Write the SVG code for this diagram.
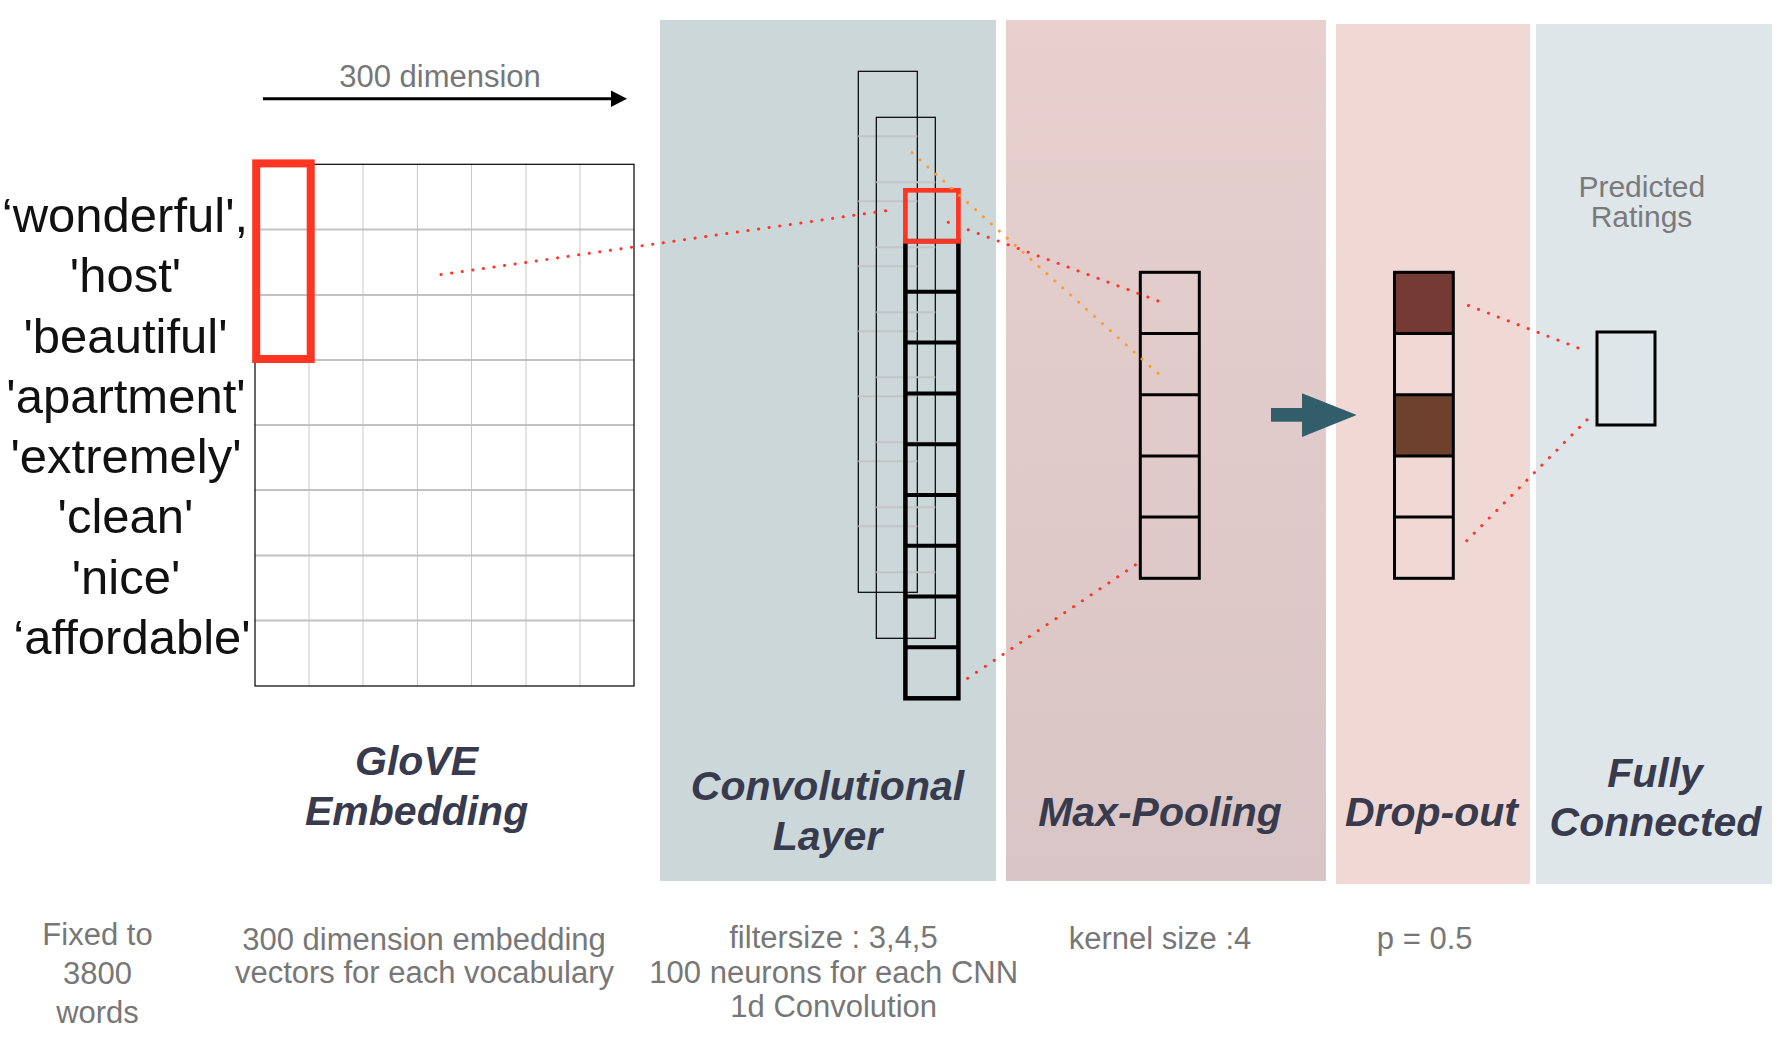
<svg xmlns="http://www.w3.org/2000/svg" width="1789" height="1043" viewBox="0 0 1789 1043">
<style>
.word{font-family:"Liberation Sans",Arial,sans-serif;font-size:49px;fill:#111;text-anchor:middle}
.title{font-family:"Liberation Sans",Arial,sans-serif;font-size:41px;font-weight:bold;font-style:italic;fill:#383a4e;text-anchor:middle}
.note{font-family:"Liberation Sans",Arial,sans-serif;font-size:31px;fill:#777;text-anchor:middle}
.pred{font-family:"Liberation Sans",Arial,sans-serif;font-size:30px;fill:#7a7a7a;text-anchor:middle}
.vgrid{stroke:#c8c8c8;stroke-width:1}
.hgrid{stroke:#c2c2c2;stroke-width:2}
.gline{stroke:#c4c4c4;stroke-width:2}
.thin{fill:none;stroke:#000;stroke-width:1.2}
.cell{fill:none;stroke:#000;stroke-width:3}
.conv{fill:none;stroke:#000;stroke-width:4.5}
.hl{fill:none;stroke:#ff3524}
.dotr{fill:none;stroke:#ff3524;stroke-width:3;stroke-linecap:round;stroke-dasharray:0.01 0.99}
.doto{fill:none;stroke:#ff9a30;stroke-width:3;stroke-linecap:round;stroke-dasharray:0.01 0.99}
</style>
<defs>
<linearGradient id="mpGrad" x1="0" y1="0" x2="0" y2="1">
<stop offset="0" stop-color="#e7d0ce"/>
<stop offset="1" stop-color="#d9c5c5"/>
</linearGradient>
</defs>
<rect width="1789" height="1043" fill="#fff"/>

<g id="panels">
<rect x="660" y="20" width="336" height="861" fill="#cbd7d9"/>
<rect x="1006" y="20" width="320" height="861" fill="url(#mpGrad)"/>
<rect x="1336" y="24" width="194" height="860" fill="#f0d9d4"/>
<rect x="1536" y="24" width="236" height="860" fill="#dfe6e9"/>
</g>

<g id="words">
<text class="word" x="125" y="232">‘wonderful',</text>
<text class="word" x="125.5" y="292">'host'</text>
<text class="word" x="125.5" y="353">'beautiful'</text>
<text class="word" x="126" y="413">'apartment'</text>
<text class="word" x="126" y="473">'extremely'</text>
<text class="word" x="125.5" y="533">'clean'</text>
<text class="word" x="126" y="594">'nice'</text>
<text class="word" x="132" y="654">‘affordable'</text>
</g>

<g id="dimension-arrow">
<text class="note" x="440" y="87">300 dimension</text>
<line x1="263" y1="98.7" x2="613" y2="98.7" stroke="#000" stroke-width="3"/>
<polygon points="611,90.6 627,98.7 611,107" fill="#000"/>
</g>

<g id="glove-embedding">
<rect x="255" y="164.3" width="379" height="521.7" fill="#fff"/>
<g class="vgrid">
<line x1="309" y1="164.3" x2="309" y2="686"/>
<line x1="363" y1="164.3" x2="363" y2="686"/>
<line x1="417.4" y1="164.3" x2="417.4" y2="686"/>
<line x1="471.5" y1="164.3" x2="471.5" y2="686"/>
<line x1="526" y1="164.3" x2="526" y2="686"/>
<line x1="580" y1="164.3" x2="580" y2="686"/>
</g>
<g class="hgrid">
<line x1="255" y1="229.5" x2="634" y2="229.5"/>
<line x1="255" y1="295" x2="634" y2="295"/>
<line x1="255" y1="360" x2="634" y2="360"/>
<line x1="255" y1="425" x2="634" y2="425"/>
<line x1="255" y1="490" x2="634" y2="490"/>
<line x1="255" y1="555.5" x2="634" y2="555.5"/>
<line x1="255" y1="620.5" x2="634" y2="620.5"/>
</g>
<rect x="255" y="164.3" width="379" height="521.7" fill="none" stroke="#000" stroke-width="1.2"/>
<rect class="hl" x="256.2" y="163.4" width="54.5" height="195.6" stroke-width="8"/>
</g>

<g id="conv-layer">
<rect class="thin" x="858.3" y="71.3" width="59" height="521"/>
<g class="gline">
<line x1="858.3" y1="136.3" x2="917.3" y2="136.3"/>
<line x1="858.3" y1="201.3" x2="917.3" y2="201.3"/>
<line x1="858.3" y1="266.3" x2="917.3" y2="266.3"/>
<line x1="858.3" y1="331.3" x2="917.3" y2="331.3"/>
<line x1="858.3" y1="396.3" x2="917.3" y2="396.3"/>
<line x1="858.3" y1="461.3" x2="917.3" y2="461.3"/>
<line x1="858.3" y1="526.3" x2="917.3" y2="526.3"/>
</g>
<rect class="thin" x="876.3" y="117.3" width="59" height="521"/>
<g class="gline">
<line x1="876.3" y1="182.3" x2="935.3" y2="182.3"/>
<line x1="876.3" y1="247.3" x2="935.3" y2="247.3"/>
<line x1="876.3" y1="312.3" x2="935.3" y2="312.3"/>
<line x1="876.3" y1="377.3" x2="935.3" y2="377.3"/>
<line x1="876.3" y1="442.3" x2="935.3" y2="442.3"/>
<line x1="876.3" y1="507.3" x2="935.3" y2="507.3"/>
<line x1="876.3" y1="572.3" x2="935.3" y2="572.3"/>
</g>
<rect class="conv" x="905.4" y="241.1" width="53" height="457.2"/>
<g stroke="#000" stroke-width="4">
<line x1="905.4" y1="291.8" x2="958.4" y2="291.8"/>
<line x1="905.4" y1="342.6" x2="958.4" y2="342.6"/>
<line x1="905.4" y1="393.4" x2="958.4" y2="393.4"/>
<line x1="905.4" y1="444.2" x2="958.4" y2="444.2"/>
<line x1="905.4" y1="494.9" x2="958.4" y2="494.9"/>
<line x1="905.4" y1="545.7" x2="958.4" y2="545.7"/>
<line x1="905.4" y1="596.5" x2="958.4" y2="596.5"/>
<line x1="905.4" y1="647.3" x2="958.4" y2="647.3"/>
</g>
<rect class="hl" x="905.4" y="190.3" width="53" height="51" stroke-width="4.7"/>
</g>

<g id="max-pooling">
<rect class="cell" x="1140.3" y="272.3" width="59" height="306"/>
<g stroke="#000" stroke-width="3">
<line x1="1140.3" y1="333.5" x2="1199.3" y2="333.5"/>
<line x1="1140.3" y1="394.7" x2="1199.3" y2="394.7"/>
<line x1="1140.3" y1="455.9" x2="1199.3" y2="455.9"/>
<line x1="1140.3" y1="517.1" x2="1199.3" y2="517.1"/>
</g>
</g>

<g id="flow-arrow">
<rect x="1271" y="408" width="32" height="13.7" fill="#325e6c"/>
<polygon points="1302,393.3 1356.7,415 1302,437" fill="#325e6c"/>
</g>

<g id="drop-out">
<rect x="1394.5" y="272.3" width="58.8" height="61.2" fill="#763a35"/>
<rect x="1394.5" y="394.7" width="58.8" height="61.2" fill="#6e412c"/>
<rect class="cell" x="1394.5" y="272.3" width="58.8" height="306"/>
<g stroke="#000" stroke-width="3">
<line x1="1394.5" y1="333.5" x2="1453.3" y2="333.5"/>
<line x1="1394.5" y1="394.7" x2="1453.3" y2="394.7"/>
<line x1="1394.5" y1="455.9" x2="1453.3" y2="455.9"/>
<line x1="1394.5" y1="517.1" x2="1453.3" y2="517.1"/>
</g>
</g>

<g id="fully-connected">
<text class="pred" x="1641.8" y="196.7">Predicted</text>
<text class="pred" x="1641.5" y="226.7">Ratings</text>
<rect class="cell" x="1597" y="332" width="58" height="93"/>
</g>

<g id="connectors">
<line class="dotr" pathLength="42.05" x1="441" y1="274.6" x2="886" y2="210.7"/>
<line class="dotr" pathLength="21.05" x1="948.3" y1="222.3" x2="1158.3" y2="301"/>
<line class="doto" pathLength="31.05" x1="912" y1="152.7" x2="1158.3" y2="373.7"/>
<line class="dotr" pathLength="19.05" x1="967.7" y1="678.3" x2="1135.7" y2="564.7"/>
<line class="dotr" pathLength="11.05" x1="1468.5" y1="305.5" x2="1578.3" y2="348"/>
<line class="dotr" pathLength="16.05" x1="1466.7" y1="540.7" x2="1587.3" y2="419.5"/>
</g>

<g id="titles">
<text class="title" x="416.6" y="775">GloVE</text>
<text class="title" x="416.6" y="825">Embedding</text>
<text class="title" x="827.5" y="800">Convolutional</text>
<text class="title" x="827.5" y="850">Layer</text>
<text class="title" x="1160" y="826">Max-Pooling</text>
<text class="title" x="1431.5" y="826">Drop-out</text>
<text class="title" x="1655" y="787">Fully</text>
<text class="title" x="1655.5" y="836">Connected</text>
</g>

<g id="notes">
<text class="note" x="97.5" y="945">Fixed to</text>
<text class="note" x="97.5" y="984">3800</text>
<text class="note" x="97.5" y="1023">words</text>
<text class="note" x="424" y="950">300 dimension embedding</text>
<text class="note" x="424.5" y="983.3">vectors for each vocabulary</text>
<text class="note" x="833.5" y="948.3">filtersize : 3,4,5</text>
<text class="note" x="833.7" y="983.3">100 neurons for each CNN</text>
<text class="note" x="833.7" y="1016.7">1d Convolution</text>
<text class="note" x="1160" y="949.3">kernel size :4</text>
<text class="note" x="1424.7" y="949.3">p = 0.5</text>
</g>
</svg>
